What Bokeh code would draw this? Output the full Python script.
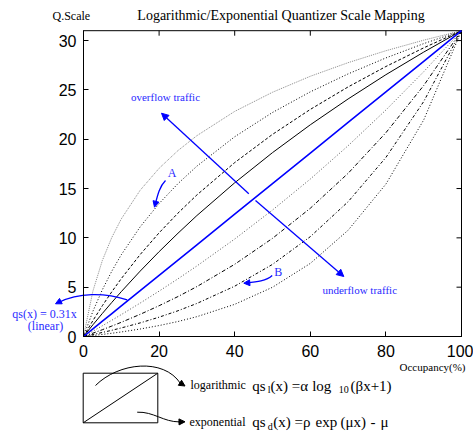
from bokeh.plotting import figure
from bokeh.models import Range1d, LinearAxis, FixedTicker, Arrow, NormalHead
from bokeh.embed import file_html
from bokeh.resources import INLINE
from bokeh.core.properties import value

# ---- data ----
occupancy = [0, 2.5, 5, 7.5, 10, 15, 20, 25, 30, 40, 50, 60, 70, 80, 90, 100]
log_a = [0, 4.62, 7.72, 10.05, 11.92, 14.83, 17.05, 18.85, 20.36, 22.82, 24.76, 26.38, 27.76, 28.97, 30.04, 31]
log_b = [0, 2.57, 4.75, 6.63, 8.29, 11.12, 13.48, 15.50, 17.27, 20.25, 22.71, 24.80, 26.62, 28.24, 29.69, 31]
log_c = [0, 1.62, 3.13, 4.54, 5.87, 8.31, 10.51, 12.51, 14.35, 17.63, 20.49, 23.02, 25.30, 27.37, 29.26, 31]
log_d = [0, 1.19, 2.34, 3.46, 4.55, 6.63, 8.60, 10.47, 12.26, 15.58, 18.64, 21.46, 24.08, 26.54, 28.83, 31]
linear = [0, 0.775, 1.55, 2.325, 3.1, 4.65, 6.2, 7.75, 9.3, 12.4, 15.5, 18.6, 21.7, 24.8, 27.9, 31]
exp_a = [0, 0.54, 1.09, 1.65, 2.22, 3.39, 4.60, 5.85, 7.15, 9.88, 12.82, 15.96, 19.34, 22.96, 26.84, 31]
exp_b = [0, 0.34, 0.69, 1.06, 1.44, 2.25, 3.12, 4.05, 5.06, 7.32, 9.95, 13.00, 16.54, 20.66, 25.44, 31]
exp_c = [0, 0.20, 0.41, 0.63, 0.87, 1.38, 1.96, 2.61, 3.35, 5.10, 7.31, 10.12, 13.66, 18.15, 23.82, 31]
exp_d = [0, 0.10, 0.21, 0.33, 0.46, 0.76, 1.11, 1.52, 2.01, 3.26, 4.99, 7.41, 10.77, 15.45, 21.95, 31]

x_ticks = [0, 20, 40, 60, 80, 100]
y_ticks = [0, 5, 10, 15, 20, 25, 30]
x_max = 100
y_max = 31

title_text = "Logarithmic/Exponential Quantizer Scale Mapping"
y_title = "Q.Scale"
x_title = "Occupancy(%)"

SERIF = "Liberation Serif"
SANS = "Liberation Sans"
BLUE = "#0000ff"
TBLUE = "#2a2aff"

# ---- layout: the frame covers the whole canvas; the axis box sits inside it ----
W, H = 473, 432
BOX_L, BOX_R, BOX_B, BOX_T = 83, 461, 336, 30.2
SX = (BOX_R - BOX_L) / x_max
SY = (BOX_B - BOX_T) / y_max

def dx(px):
    return (px - BOX_L) / SX

def dy(py):
    return (BOX_B - py) / SY

p = figure(width=W, height=H, x_range=Range1d(dx(0), dx(W)), y_range=Range1d(dy(H), dy(0)),
           output_backend="svg", toolbar_location=None, x_axis_type=None, y_axis_type=None,
           min_border=0, min_border_left=0, min_border_right=0, min_border_top=0, min_border_bottom=0)
p.grid.visible = False
p.outline_line_color = None
p.background_fill_color = "white"
p.border_fill_color = "white"

xa = LinearAxis(fixed_location=0, bounds=(0, x_max), ticker=FixedTicker(ticks=x_ticks))
ya = LinearAxis(fixed_location=0, bounds=(0, y_max), ticker=FixedTicker(ticks=y_ticks))
for ax, st in ((xa, 8), (ya, 7)):
    ax.major_tick_in = 5
    ax.major_tick_out = 0
    ax.minor_tick_line_color = None
    ax.axis_line_color = "black"
    ax.major_tick_line_color = "black"
    ax.major_label_text_font = SANS
    ax.major_label_text_font_size = "16px"
    ax.major_label_text_color = "black"
    ax.major_label_standoff = st
p.add_layout(xa, "below")
p.add_layout(ya, "left")

# axis box and mirrored ticks on top / right
p.quad(left=[0], right=[x_max], bottom=[0], top=[y_max], fill_color=None, line_color="black", line_width=1)
p.segment(x0=x_ticks, y0=[y_max] * len(x_ticks), x1=x_ticks, y1=[y_max - 5 / SY] * len(x_ticks),
          line_color="black", line_width=1)
p.segment(x0=[x_max] * len(y_ticks), y0=y_ticks, x1=[x_max - 5 / SX] * len(y_ticks), y1=y_ticks,
          line_color="black", line_width=1)

# curves
p.line(occupancy, log_a, line_color="#8a8a8a", line_width=1, line_dash="1 1")
p.line(occupancy, log_b, line_color="black", line_width=1, line_dash="1 2")
p.line(occupancy, log_c, line_color="black", line_width=1, line_dash="3 2")
p.line(occupancy, log_d, line_color="black", line_width=1)
p.line(occupancy, exp_a, line_color="#555555", line_width=1, line_dash="1 2")
p.line(occupancy, exp_b, line_color="black", line_width=1, line_dash="4 2 1 2")
p.line(occupancy, exp_c, line_color="black", line_width=1, line_dash="3 2 1 2")
p.line(occupancy, exp_d, line_color="black", line_width=1, line_dash="1 2")
p.line(occupancy, linear, line_color=BLUE, line_width=1.6)

def arrow(x0, y0, x1, y1, color=BLUE, size=7, lw=1.3):
    p.add_layout(Arrow(end=NormalHead(size=size, fill_color=color, line_color=color),
                       x_start=x0, y_start=y0, x_end=x1, y_end=y1, line_color=color, line_width=lw))

def txt(px, py, text, size, font=SERIF, color=TBLUE, align="center"):
    p.text(x=[dx(px)], y=[dy(py)], text=[text], text_font=value(font), text_font_size=size,
           text_color=color, text_align=align, text_baseline="middle")

def curve(pts, color=BLUE, lw=1.3):
    (a, b), (c, d), (e, f), (g, h) = pts
    p.bezier(x0=[dx(a)], y0=[dy(b)], cx0=[dx(c)], cy0=[dy(d)], cx1=[dx(e)], cy1=[dy(f)],
             x1=[dx(g)], y1=[dy(h)], line_color=color, line_width=lw)

# overflow / underflow arrows
arrow(dx(248.3), dy(193.3), dx(161), dy(112.7))
arrow(dx(255), dy(200), dx(343.3), dy(276))

txt(165, 96.7, "overflow traffic", "11px")
txt(359.2, 289, "underflow traffic", "11px")
txt(171.7, 172.7, "A", "12px")
txt(277.7, 271.7, "B", "12px")
txt(280.5, 14.7, title_text, "14px", color="black")
txt(52, 15.3, y_title, "12px", color="black", align="left")
txt(44, 313.3, "qs(x) = 0.31x", "12px")
txt(45, 325, "(linear)", "12px")

# curved pointers
curve([(165, 180), (159, 186), (157, 195), (154.6, 204.5)])
arrow(dx(155.2), dy(202), dx(154), dy(206.7), size=6)
curve([(271.7, 275), (266, 280.5), (256, 281.5), (246, 282.5)])
arrow(dx(247), dy(282.4), dx(243.3), dy(282.7), size=6)
curve([(126.7, 299.3), (104, 292), (78, 292), (58, 302)])
arrow(dx(59), dy(301.3), dx(55), dy(303.3), size=6)

# ---- bottom diagram ----
p.quad(left=[dx(82.7)], right=[dx(157.3)], top=[dy(372.7)], bottom=[dy(422.3)],
       fill_color=None, line_color="black", line_width=1)
p.segment(x0=[dx(82.7)], y0=[dy(422.3)], x1=[dx(157.3)], y1=[dy(372.7)], line_color="black", line_width=1)
curve([(95, 385), (118, 362), (163, 357), (180, 383)], color="black", lw=1)
arrow(dx(179), dy(382), dx(184.5), dy(385.5), color="black", size=6, lw=1)
curve([(136.7, 411.7), (153, 411), (163, 421.5), (179, 421.4)], color="black", lw=1)
arrow(dx(178), dy(421.4), dx(184.5), dy(421.3), color="black", size=6, lw=1)

K = "black"
txt(465, 366.3, x_title, "11px", color=K, align="right")
txt(190, 384, "logarithmic", "12px", color=K, align="left")
txt(189, 421.7, "exponential", "12px", color=K, align="left")
# formula 1
txt(251.7, 385, "qs", "15px", color=K, align="left")
txt(267.3, 389, "l", "10px", color=K, align="left")
txt(270, 385, "(x) =\u03b1", "15px", color=K, align="left")
txt(311.7, 385, "log", "15px", color=K, align="left")
txt(338.3, 389, "10", "10px", color=K, align="left")
txt(350, 385, "(\u03b2x+1)", "15px", color=K, align="left")
# formula 2
txt(251.7, 421.5, "qs", "15px", color=K, align="left")
txt(267.3, 425.5, "d", "10px", color=K, align="left")
txt(272.7, 421.5, "(x) =\u03c1", "15px", color=K, align="left")
txt(315, 421.5, "exp", "15px", color=K, align="left")
txt(340, 421.5, "(\u03bcx)", "15px", color=K, align="left")
txt(370, 421.5, "-", "15px", color=K, align="left")
txt(380, 421.5, "\u03bc", "15px", color=K, align="left")

open("out.html", "w").write(file_html(p, INLINE))
